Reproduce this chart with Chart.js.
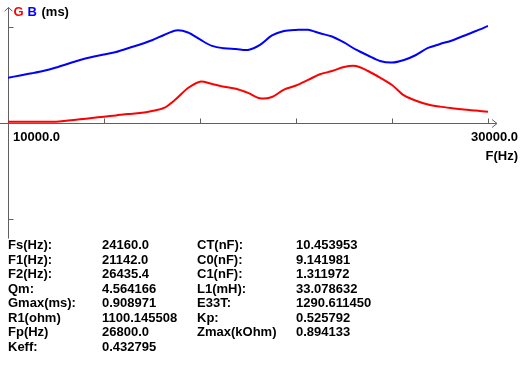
<!DOCTYPE html>
<html>
<head>
<meta charset="utf-8">
<script src="https://cdn.jsdelivr.net/npm/chart.js@4"></script>
<style>
    body { margin: 0; background: #fff; }
    #wrap { position: relative; width: 524px; height: 366px; overflow: hidden; }
    #chart { position: absolute; left: 0; top: 0; }
    .params { position: absolute; top: 238px; font: bold 13px "Liberation Sans", Arial, sans-serif; line-height: 14.5px; color: #000; white-space: pre; }
</style>
</head>
<body>
<div id="wrap">
    <canvas id="chart" width="524" height="366"></canvas>
    <div class="params" id="col1" style="left:8px"></div>
    <div class="params" id="col2" style="left:102px"></div>
    <div class="params" id="col3" style="left:197px"></div>
    <div class="params" id="col4" style="left:296px"></div>
</div>
<script>
// frequency points (Hz), 500 Hz step
const freqs = [];
for (let f = 10000; f <= 30000; f += 500) freqs.push(f);

// conductance G (red) and susceptance B (blue), ms
const gValues = [0.013, 0.013, 0.013, 0.013, 0.013, 0.026, 0.038, 0.052, 0.066, 0.079,
    0.093, 0.104, 0.125, 0.156, 0.249, 0.363, 0.429, 0.405, 0.376, 0.355,
    0.312, 0.256, 0.270, 0.347, 0.389, 0.447, 0.506, 0.539, 0.582, 0.592,
    0.540, 0.472, 0.395, 0.286, 0.231, 0.192, 0.170, 0.154, 0.140, 0.129, 0.117];
const bValues = [0.470, 0.493, 0.516, 0.542, 0.576, 0.615, 0.654, 0.685, 0.711, 0.737,
    0.776, 0.815, 0.859, 0.914, 0.961, 0.940, 0.867, 0.800, 0.776, 0.768,
    0.758, 0.810, 0.909, 0.955, 0.966, 0.967, 0.931, 0.898, 0.836, 0.761,
    0.701, 0.644, 0.627, 0.654, 0.706, 0.779, 0.820, 0.857, 0.906, 0.955, 1.007];

const xMin = 10000;
const xMax = 30000;
const xTicks = [10000, 14000, 18000, 22000, 26000, 30000];
const yTicks = [1, -1];

const paramNames1 = ["Fs(Hz):", "F1(Hz):", "F2(Hz):", "Qm:", "Gmax(ms):", "R1(ohm)", "Fp(Hz)", "Keff:"];
const paramValues1 = ["24160.0", "21142.0", "26435.4", "4.564166", "0.908971", "1100.145508", "26800.0", "0.432795"];
const paramNames2 = ["CT(nF):", "C0(nF):", "C1(nF):", "L1(mH):", "E33T:", "Kp:", "Zmax(kOhm)"];
const paramValues2 = ["10.453953", "9.141981", "1.311972", "33.078632", "1290.611450", "0.525792", "0.894133"];

document.addEventListener("DOMContentLoaded", () => {
    document.getElementById("col1").textContent = paramNames1.join("\n");
    document.getElementById("col2").textContent = paramValues1.join("\n");
    document.getElementById("col3").textContent = paramNames2.join("\n");
    document.getElementById("col4").textContent = paramValues2.join("\n");

    const font = 'bold 13px "Liberation Sans", Arial, sans-serif';
    const axisColor = '#606060';

    // axes with arrows, inner ticks and end labels
    const axesPlugin = {
        id: 'axes',
        beforeDatasetsDraw(chart) {
            const ctx = chart.ctx;
            const xs = chart.scales.x;
            const ys = chart.scales.y;
            const x0 = Math.round(xs.getPixelForValue(xMin)) + 0.5;
            const y0 = Math.round(ys.getPixelForValue(0)) + 0.5;
            const xEnd = xs.getPixelForValue(xMax) + 9;
            ctx.save();
            ctx.strokeStyle = axisColor;
            ctx.lineWidth = 1;
            ctx.beginPath();
            // x axis
            ctx.moveTo(0, y0);
            ctx.lineTo(xEnd, y0);
            ctx.moveTo(xEnd - 5, y0 - 4);
            ctx.lineTo(xEnd, y0);
            ctx.lineTo(xEnd - 5, y0 + 4);
            // y axis
            ctx.moveTo(x0, chart.chartArea.bottom);
            ctx.lineTo(x0, chart.chartArea.top);
            ctx.moveTo(x0 - 4, chart.chartArea.top + 4);
            ctx.lineTo(x0, chart.chartArea.top);
            ctx.lineTo(x0 + 4, chart.chartArea.top + 4);
            xTicks.forEach(t => {
                const px = Math.round(xs.getPixelForValue(t)) + 0.5;
                ctx.moveTo(px, y0);
                ctx.lineTo(px, y0 - 5);
            });
            yTicks.forEach(t => {
                const py = Math.round(ys.getPixelForValue(t)) + 0.5;
                ctx.moveTo(x0, py);
                ctx.lineTo(x0 + 5, py);
            });
            ctx.stroke();

            ctx.font = font;
            ctx.fillStyle = '#000';
            ctx.textBaseline = 'alphabetic';
            ctx.textAlign = 'left';
            ctx.fillText(xMin.toFixed(1), xs.getPixelForValue(xMin) + 5, y0 + 17);
            ctx.textAlign = 'right';
            ctx.fillText(xMax.toFixed(1), xs.getPixelForValue(xMax) + 30, y0 + 17);
            ctx.fillText('F(Hz)', xs.getPixelForValue(xMax) + 30, y0 + 36);

            // y axis title: G B (ms)
            ctx.textAlign = 'left';
            ctx.fillStyle = '#ff0000';
            ctx.fillText('G', x0 + 5, 16);
            ctx.fillStyle = '#0000ff';
            ctx.fillText('B', x0 + 19, 16);
            ctx.fillStyle = '#000';
            ctx.fillText('(ms)', x0 + 33, 16);
            ctx.restore();
        }
    };

    new Chart(document.getElementById("chart"), {
        type: 'line',
        data: {
            datasets: [{
                label: 'G',
                data: freqs.map((f, i) => ({ x: f, y: gValues[i] })),
                borderColor: '#ff0000',
                borderWidth: 2,
                pointRadius: 0,
                tension: 0.3,
                fill: false
            }, {
                label: 'B',
                data: freqs.map((f, i) => ({ x: f, y: bValues[i] })),
                borderColor: '#0000ff',
                borderWidth: 2,
                pointRadius: 0,
                tension: 0.3,
                fill: false
            }]
        },
        options: {
            responsive: false,
            animation: false,
            layout: { padding: { left: 8, right: 36, top: 7.4, bottom: 127.4 } },
            plugins: { legend: { display: false }, tooltip: { enabled: false } },
            scales: {
                x: { type: 'linear', min: xMin, max: xMax, display: false },
                y: { min: -1.2, max: 1.2, display: false }
            }
        },
        plugins: [axesPlugin]
    });
});
</script>
</body>
</html>
